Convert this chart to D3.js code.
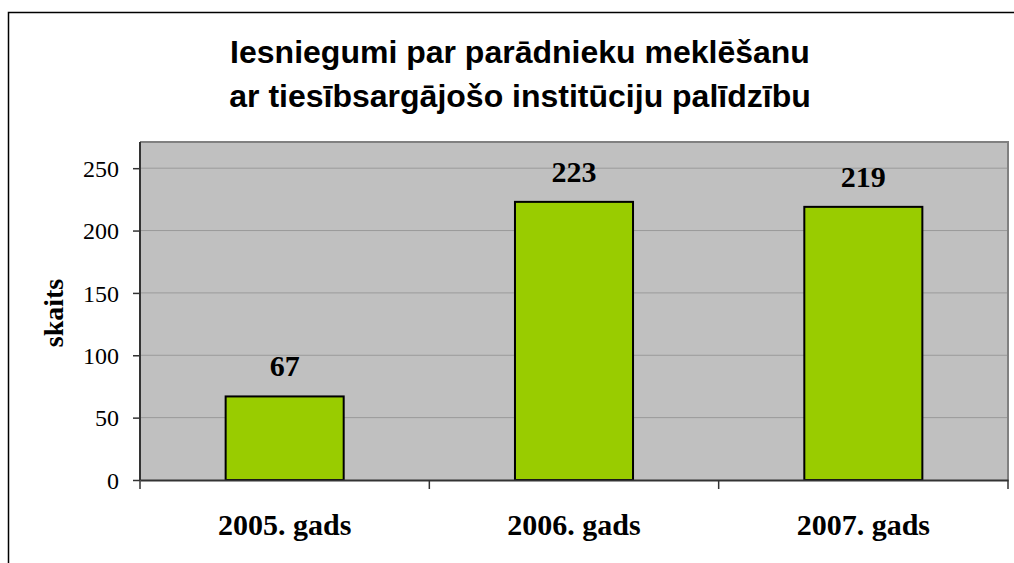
<!DOCTYPE html>
<html>
<head>
<meta charset="utf-8">
<script src="https://cdn.jsdelivr.net/npm/d3@7"></script>
<style>
  html, body { margin: 0; padding: 0; background: #ffffff; }
  svg { display: block; }
</style>
</head>
<body>
<svg id="chart" width="1014" height="563"></svg>
<script>
// Chart data
const titleLines = ["Iesniegumi par parādnieku meklēšanu", "ar tiesībsargājošo institūciju palīdzību"];
const categories = ["2005. gads", "2006. gads", "2007. gads"];
const values = [67, 223, 219];
const yTicks = [0, 50, 100, 150, 200, 250];
const yLabel = "skaits";

const serif = "'Liberation Serif', 'Times New Roman', serif";
const sans = "'Liberation Sans', Arial, sans-serif";

const svg = d3.select("#chart");

// Outer chart frame
svg.append("rect")
  .attr("x", 8.5).attr("y", 12.5)
  .attr("width", 1020).attr("height", 600)
  .attr("fill", "#ffffff")
  .attr("stroke", "#000000").attr("stroke-width", 1.5);

const plot = { left: 140, right: 1008, top: 142, bottom: 480 };

const x = d3.scaleBand()
  .domain(categories)
  .range([plot.left, plot.right])
  .paddingInner(0.592)
  .paddingOuter(0.296);

const xOuter = d3.scaleBand()
  .domain(categories)
  .range([plot.left, plot.right])
  .padding(0);

const y = d3.scaleLinear()
  .domain([0, 271])
  .range([plot.bottom, plot.top]);

// Plot background
svg.append("rect")
  .attr("x", plot.left).attr("y", plot.top)
  .attr("width", plot.right - plot.left)
  .attr("height", plot.bottom - plot.top)
  .attr("fill", "#c0c0c0");

// Horizontal gridlines
svg.append("g")
  .selectAll("line")
  .data(yTicks.filter(d => d > 0))
  .join("line")
  .attr("x1", plot.left).attr("x2", plot.right)
  .attr("y1", d => y(d)).attr("y2", d => y(d))
  .attr("stroke", "#9a9a9a").attr("stroke-width", 1);

// Plot border (top and right)
svg.append("path")
  .attr("d", `M${plot.left},${plot.top}H${plot.right}V${plot.bottom}`)
  .attr("fill", "none")
  .attr("stroke", "#808080").attr("stroke-width", 2);

// Bars
svg.append("g")
  .selectAll("rect")
  .data(values)
  .join("rect")
  .attr("x", (d, i) => x(categories[i]))
  .attr("y", d => y(d))
  .attr("width", x.bandwidth())
  .attr("height", d => y(0) - y(d))
  .attr("fill", "#99cc00")
  .attr("stroke", "#000000").attr("stroke-width", 2);

// Value labels
svg.append("g")
  .selectAll("text")
  .data(values)
  .join("text")
  .attr("x", (d, i) => x(categories[i]) + x.bandwidth() / 2)
  .attr("y", d => y(d) - 20)
  .attr("text-anchor", "middle")
  .attr("font-family", serif)
  .attr("font-weight", "bold")
  .attr("font-size", 30)
  .attr("fill", "#000000")
  .text(d => d);

// Y axis
const yAxis = svg.append("g")
  .attr("transform", `translate(${plot.left},0)`)
  .call(d3.axisLeft(y).tickValues(yTicks).tickSize(7).tickPadding(14).tickSizeOuter(0));
yAxis.select(".domain").attr("stroke", "#333333").attr("stroke-width", 2)
  .attr("d", `M0,${plot.top}V${plot.bottom}`);
yAxis.selectAll(".tick line").attr("stroke", "#333333").attr("stroke-width", 1.5);
yAxis.selectAll(".tick text")
  .attr("font-family", serif)
  .attr("font-size", 24)
  .attr("fill", "#000000")
  .attr("dy", "0.34em");

// X axis
const xAxis = svg.append("g")
  .attr("transform", `translate(0,${plot.bottom})`)
  .call(d3.axisBottom(xOuter).tickSize(0).tickSizeOuter(0));
xAxis.select(".domain").attr("stroke", "#333333").attr("stroke-width", 2);
xAxis.selectAll(".tick text")
  .attr("font-family", serif)
  .attr("font-weight", "bold")
  .attr("font-size", 30)
  .attr("fill", "#000000")
  .attr("y", 55)
  .attr("dy", 0);

// Category boundary tick marks
const boundaries = categories.map(c => xOuter(c)).concat([plot.right]);
svg.append("g")
  .selectAll("line")
  .data(boundaries)
  .join("line")
  .attr("x1", d => d).attr("x2", d => d)
  .attr("y1", plot.bottom).attr("y2", plot.bottom + 9)
  .attr("stroke", "#333333").attr("stroke-width", 1.5);

// Y axis title
svg.append("text")
  .attr("transform", `translate(63,313) rotate(-90)`)
  .attr("text-anchor", "middle")
  .attr("font-family", serif)
  .attr("font-weight", "bold")
  .attr("font-size", 28)
  .attr("fill", "#000000")
  .text(yLabel);

// Chart title
svg.append("g")
  .selectAll("text")
  .data(titleLines)
  .join("text")
  .attr("x", 520)
  .attr("y", (d, i) => 63 + i * 44)
  .attr("text-anchor", "middle")
  .attr("font-family", sans)
  .attr("font-weight", "bold")
  .attr("font-size", 32)
  .attr("fill", "#000000")
  .text(d => d);
</script>
</body>
</html>
